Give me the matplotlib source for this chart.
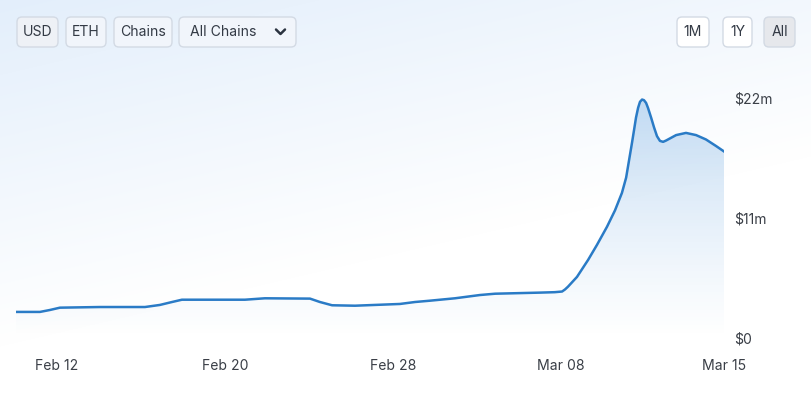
import numpy as np
import matplotlib
matplotlib.use("Agg")
import matplotlib.pyplot as plt
from matplotlib.patches import FancyBboxPatch

plt.rcParams["font.family"] = ["Inter", "DejaVu Sans"]

# days counted from Feb 12, values in $m
days = [-1.95, -0.81, -0.33, 0.14, 2.05, 4.19, 4.9, 5.48, 5.95, 8.95, 9.9, 12.05,
        12.52, 13.1, 14.19, 16.33, 17.05, 17.76, 18.95, 20.14, 20.86, 23.0, 23.7,
        24.05, 24.19, 24.33, 24.76, 25.29, 25.71, 26.19, 26.57, 26.9, 27.1, 27.24,
        27.38, 27.48, 27.57, 27.67, 27.76, 27.86, 27.95, 28.05, 28.14, 28.29, 28.43,
        28.57, 28.71, 28.86, 29.0, 29.24, 29.48, 29.95, 30.43, 30.9, 31.38, 31.76]
tvl_m = [2.39, 2.39, 2.57, 2.78, 2.84, 2.84, 3.03, 3.30, 3.51, 3.51, 3.64, 3.61,
         3.30, 3.00, 2.96, 3.12, 3.30, 3.42, 3.64, 3.94, 4.06, 4.16, 4.20,
         4.26, 4.45, 4.70, 5.60, 7.16, 8.53, 10.2, 11.7, 13.3, 14.7, 16.3,
         17.9, 19.1, 20.2, 21.1, 21.65, 21.86, 21.8, 21.55, 21.1, 20.2, 19.3,
         18.5, 18.07, 17.98, 18.1, 18.35, 18.6, 18.8, 18.6, 18.2, 17.6, 17.1]

xtick_pos = [0, 8, 16, 24, 31.76]
xtick_labels = ["Feb 12", "Feb 20", "Feb 28", "Mar 08", "Mar 15"]
ytick_pos = [0, 11, 22]
ytick_labels = ["$0", "$11m", "$22m"]

W, H = 812, 398
fig = plt.figure(figsize=(W / 100, H / 100), dpi=100)

# background layer in pixel coordinates
bg = fig.add_axes([0, 0, 1, 1])
bg.set_xlim(0, W)
bg.set_ylim(H, 0)
bg.axis("off")
yy, xx = np.mgrid[0:H, 0:W]
f = np.clip(1.0 - yy / H * 1.15 - xx / W * 0.55, 0, 1)
top = np.array([0.89, 0.935, 0.985])
img = np.ones((H, W, 3)) * (1 - f[..., None]) + top * f[..., None]
bg.imshow(img, extent=[0, W, H, 0], aspect="auto", zorder=0)

# buttons
btns = [(17, 58, "USD", "#eef1f6"), (66, 106, "ETH", "#f1f5fb"),
        (114, 172, "Chains", "#f1f5fb"), (179, 296, "All Chains", "#f1f5fb"),
        (677, 709, "1M", "#ffffff"), (723, 752, "1Y", "#ffffff"),
        (764, 795, "All", "#e6e8ec")]
for x0, x1, lab, fc in btns:
    bg.add_patch(FancyBboxPatch((x0, 17), x1 - x0, 30,
                                boxstyle="round,pad=0,rounding_size=5",
                                fc=fc, ec="#d3dae4", lw=1, zorder=2))
    if lab == "All Chains":
        bg.text(190, 32.5, lab, ha="left", va="center", fontsize=10.1, color="#333a45", zorder=3)
        bg.plot([276, 280.5, 285], [29.5, 34, 29.5], color="#2b3340", lw=1.8,
                solid_capstyle="round", zorder=3)
    else:
        bg.text((x0 + x1) / 2, 32.5, lab, ha="center", va="center", fontsize=10.1,
                color="#333a45", zorder=3)

# main chart
ax = fig.add_axes([16 / W, 1 - 338 / H, (724 - 16) / W, (338 - 98) / H])
ax.patch.set_alpha(0)
line_color = "#2a7bc6"
ax.plot(days, tvl_m, color=line_color, lw=1.8, zorder=3, solid_joinstyle="round")
poly = ax.fill_between(days, tvl_m, 0, color="none", lw=0)
grad = np.linspace(0, 1, 256)[:, None]
rgba = np.zeros((256, 1, 4))
rgba[..., 0] = 0.24
rgba[..., 1] = 0.55
rgba[..., 2] = 0.85
rgba[..., 3] = 0.29 * grad[::-1] ** 1.1
im = ax.imshow(rgba, extent=[days[0], days[-1], 0, 22], aspect="auto", origin="upper", zorder=2)
im.set_clip_path(poly.get_paths()[0], transform=ax.transData)

ax.set_xlim(days[0], days[-1])
ax.set_ylim(0, 22)
for s in ax.spines.values():
    s.set_visible(False)
ax.set_xticks(xtick_pos)
ax.set_xticklabels(xtick_labels)
ax.yaxis.tick_right()
ax.set_yticks(ytick_pos)
ax.set_yticklabels(ytick_labels, ha="left")
ax.tick_params(axis="x", length=0, pad=15, labelsize=10.1, labelcolor="#3a3f47")
ax.tick_params(axis="y", length=0, pad=7, labelsize=10.1, labelcolor="#3a3f47")

fig.savefig("out.png", dpi=100)
